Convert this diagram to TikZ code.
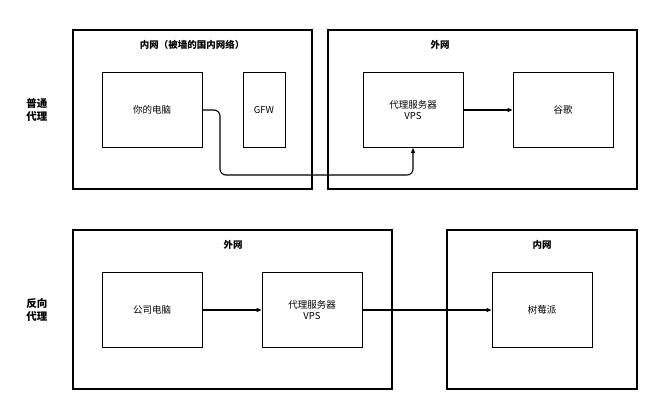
\documentclass[tikz,border=0pt]{standalone}
\usepackage{fontspec}
\setmainfont{Noto Sans CJK SC}
\usetikzlibrary{arrows.meta}
\begin{document}
\begin{tikzpicture}[x=1pt,y=-1pt,
  box/.style={draw,line width=1.2pt},
  inner/.style={draw,line width=0.9pt},
  lbl/.style={font=\fontsize{9.5}{11}\selectfont,align=center},
  ttl/.style={font=\fontsize{9.5}{11}\selectfont\bfseries,align=center},
  side/.style={font=\fontsize{10.5}{13}\selectfont\bfseries,align=center},
  arr/.style={-{Triangle[length=5pt,width=4pt]},line width=1.1pt}]
\useasboundingbox (0,0) rectangle (657,410);
\draw[box] (73,30) rectangle (312,189);
\node[ttl] (t1) at (192,45) {内网（被墙的国内网络）};
\draw[box] (328,30) rectangle (637,189);
\node[ttl] (t2) at (440,45) {外网};
\node[inner,minimum width=100pt,minimum height=75pt] (pc) at (152,110) {};
\node[lbl] at (pc) {你的电脑};
\node[inner,minimum width=42pt,minimum height=75pt] (gfw) at (264,110) {};
\node[lbl] at (gfw) {GFW};
\node[inner,minimum width=100pt,minimum height=75pt] (vps1) at (413,110) {};
\node[lbl] at (vps1) {代理服务器\\VPS};
\node[inner,minimum width=100pt,minimum height=75pt] (gg) at (563,110) {};
\node[lbl] at (gg) {谷歌};
\draw[arr] (vps1) -- (gg);
\draw[arr,rounded corners=6pt] (pc.east) -- (220,110) -- (220,175) -- (413,175) -- (vps1.south);
\node[side] (l1) at (37,110) {普通\\代理};
\draw[box] (73,230) rectangle (392,389);
\node[ttl] (t3) at (233,245) {外网};
\draw[box] (447,230) rectangle (637,389);
\node[ttl] (t4) at (542,245) {内网};
\node[inner,minimum width=100pt,minimum height=75pt] (pc2) at (152,310) {};
\node[lbl] at (pc2) {公司电脑};
\node[inner,minimum width=100pt,minimum height=75pt] (vps2) at (312,310) {};
\node[lbl] at (vps2) {代理服务器\\VPS};
\node[inner,minimum width=100pt,minimum height=75pt] (pi) at (542,310) {};
\node[lbl] at (pi) {树莓派};
\draw[arr] (pc2) -- (vps2);
\draw[arr] (vps2) -- (pi);
\node[side] (l2) at (37,310) {反向\\代理};
\end{tikzpicture}
\end{document}
